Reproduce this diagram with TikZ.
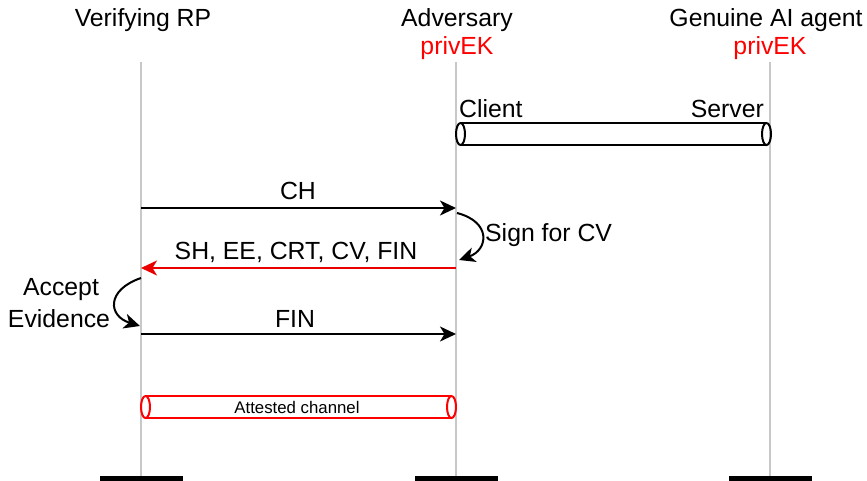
\documentclass[tikz,border=0pt]{standalone}
\usepackage{fontspec}
\setmainfont{Liberation Sans}
\usetikzlibrary{arrows.meta}
\definecolor{lifegray}{RGB}{200,200,200}
\definecolor{msgred}{RGB}{235,0,0}
\begin{document}
\begin{tikzpicture}[x=1pt,y=-1pt,
  lbl/.style={font=\fontsize{24.8}{29}\selectfont, inner sep=0pt, anchor=base},
  smalllbl/.style={font=\fontsize{16.8}{20}\selectfont, inner sep=0pt, anchor=base},
  life/.style={draw=lifegray, line width=2pt},
  msg/.style={line width=2pt, -{Stealth[length=16pt,width=15pt,inset=4.5pt]}},
  barbox/.style={fill=black, inner sep=0pt, minimum width=83pt, minimum height=6pt},
  cyl/.style={line width=2pt}
]
\useasboundingbox (0,0) rectangle (867,480);

% headings
\node[lbl] (hRP) at (143,26) {Verifying RP};
\node[lbl] (hAdv) at (457,26) {Adversary};
\node[lbl, text=red] (kAdv) at (457,54) {privEK};
\node[lbl] (hAg) at (766,26) {Genuine AI agent};
\node[lbl, text=red] (kAg) at (770,54) {privEK};

% lifelines
\coordinate (rpT) at (141,62);  \coordinate (rpB) at (141,477);
\coordinate (adT) at (456,62);  \coordinate (adB) at (456,477);
\coordinate (agT) at (770,62);  \coordinate (agB) at (770,477);
\draw[life] (rpT) -- (rpB);
\draw[life] (adT) -- (adB);
\draw[life] (agT) -- (agB);
\node[barbox] (barRP) at (141,479) {};
\node[barbox] (barAd) at (456,479) {};
\node[barbox] (barAg) at (770,479) {};

% client/server channel
\node[lbl, anchor=base west] (cli) at (459,117) {Client};
\node[lbl, anchor=base east] (srv) at (764,117) {Server};
\fill[white] (460.5,123) rectangle (766.5,145);
\draw[cyl] (460.5,123) -- (766.5,123);
\draw[cyl] (460.5,145) -- (766.5,145);
\draw[cyl, fill=white] (460.5,134) ellipse [x radius=4.5pt, y radius=11pt];
\draw[cyl] (766.5,134) ellipse [x radius=4.5pt, y radius=11pt];

% messages
\coordinate (m1a) at (141,208); \coordinate (m1b) at (456,208);
\draw[msg] (m1a) -- (m1b);
\node[lbl] (lCH) at (298,199) {CH};

\coordinate (s1) at (457,213); \coordinate (s2) at (459,260);
\draw[msg] (s1) .. controls (492,222) and (488,250) .. (s2);
\node[lbl, anchor=base west] (lSign) at (485,241) {Sign for CV};

\coordinate (m2a) at (456,268); \coordinate (m2b) at (141,268);
\draw[msg, draw=msgred, fill=msgred] (m2a) -- (m2b);
\node[lbl] (lSH) at (296,259) {SH, EE, CRT, CV, FIN};

\coordinate (a1) at (141,278); \coordinate (a2) at (140,326);
\draw[msg] (a1) .. controls (106,290) and (108,316) .. (a2);
\node[lbl] (lAcc) at (61,295) {Accept};
\node[lbl] (lEv) at (59,327) {Evidence};

\coordinate (m3a) at (141,334); \coordinate (m3b) at (456,334);
\draw[msg] (m3a) -- (m3b);
\node[lbl] (lFIN) at (295,327) {FIN};

% attested channel
\fill[white] (145.5,396) rectangle (451.5,418);
\draw[cyl, draw=red] (145.5,396) -- (451.5,396);
\draw[cyl, draw=red] (145.5,418) -- (451.5,418);
\draw[cyl, draw=red, fill=white] (145.5,407) ellipse [x radius=4.5pt, y radius=11pt];
\draw[cyl, draw=red] (451.5,407) ellipse [x radius=4.5pt, y radius=11pt];
\node[smalllbl] (lAtt) at (297,413) {Attested channel};
\end{tikzpicture}
\end{document}
